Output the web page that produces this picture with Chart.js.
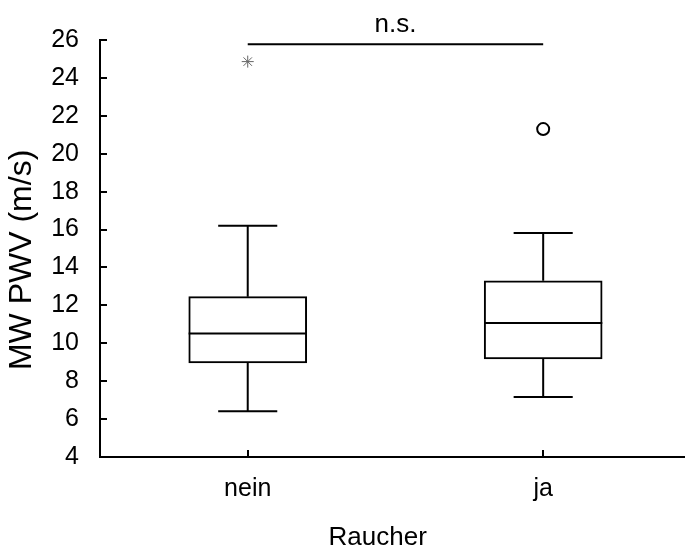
<!DOCTYPE html>
<html>
<head>
<meta charset="utf-8">
<script src="https://cdn.jsdelivr.net/npm/chart.js@4.4.1/dist/chart.umd.min.js"></script>
<style>
  body { margin: 0; background: #fff; }
  #wrap { width: 685px; height: 550px; }
</style>
</head>
<body>
<div id="wrap"><canvas id="boxChart" width="685" height="550"></canvas></div>
<script>
// Boxplot values (MW PWV in m/s)
var categories = ["nein", "ja"];
var whiskerLow = [6.42, 7.17];
var q1 = [8.97, 9.18];
var median = [10.52, 11.07];
var q3 = [12.46, 13.3];
var whiskerHigh = [16.2, 15.82];
// outliers: extreme (star) and mild (circle)
var extremeOutliers = [{ cat: 1, value: 24.86 }];
var mildOutliers = [{ cat: 2, value: 21.3 }];
var sigLevel = 25.78;
var sigText = "n.s.";
var yTitle = "MW PWV (m/s)";
var xTitle = "Raucher";
var yTicks = [4, 6, 8, 10, 12, 14, 16, 18, 20, 22, 24, 26];

var boxHalf = 0.2;
var capHalf = 0.1;

var medianPts = [];
var whiskerPts = [];
categories.forEach(function (c, i) {
  var x = i + 1;
  medianPts.push({ x: x - boxHalf, y: median[i] }, { x: x + boxHalf, y: median[i] }, { x: x + 0.5, y: null });
  whiskerPts.push({ x: x, y: q3[i] }, { x: x, y: whiskerHigh[i] }, { x: x + 0.5, y: null });
  whiskerPts.push({ x: x - capHalf, y: whiskerHigh[i] }, { x: x + capHalf, y: whiskerHigh[i] }, { x: x + 0.5, y: null });
  whiskerPts.push({ x: x, y: q1[i] }, { x: x, y: whiskerLow[i] }, { x: x + 0.5, y: null });
  whiskerPts.push({ x: x - capHalf, y: whiskerLow[i] }, { x: x + capHalf, y: whiskerLow[i] }, { x: x + 0.5, y: null });
});

// plot area runs right up to the canvas edge, like the original
var stretchRight = {
  id: "stretchRight",
  afterLayout: function (chart) {
    var xs = chart.scales.x;
    chart.chartArea.right = chart.width;
    chart.chartArea.width = chart.chartArea.right - chart.chartArea.left;
    xs.right = chart.width;
    xs.width = xs.right - xs.left;
    xs.configure();
  }
};

// inward tick marks, n.s. label and the axis titles
var extras = {
  id: "extras",
  afterDraw: function (chart) {
    var ctx = chart.ctx;
    var xs = chart.scales.x, ys = chart.scales.y;
    ctx.save();
    ctx.strokeStyle = "#000";
    ctx.lineWidth = 2;
    ctx.beginPath();
    yTicks.forEach(function (v) {
      var py = Math.round(ys.getPixelForValue(v));
      ctx.moveTo(xs.left, py);
      ctx.lineTo(xs.left + 7, py);
    });
    categories.forEach(function (c, i) {
      var px = Math.round(xs.getPixelForValue(i + 1));
      ctx.moveTo(px, ys.bottom);
      ctx.lineTo(px, ys.bottom - 7);
    });
    ctx.stroke();
    ctx.fillStyle = "#000";
    ctx.font = "26px 'Liberation Sans', Arial, sans-serif";
    ctx.textAlign = "center";
    ctx.textBaseline = "alphabetic";
    var mid = (xs.getPixelForValue(1) + xs.getPixelForValue(2)) / 2;
    ctx.fillText(sigText, mid, ys.getPixelForValue(sigLevel) - 12);

    // x title sits a bit left of the plot centre in the original
    ctx.fillText(xTitle, xs.getPixelForValue(1.44), 545);

    ctx.translate(22, ys.getPixelForValue(14.4));
    ctx.rotate(-Math.PI / 2);
    ctx.font = "32px 'Liberation Sans', Arial, sans-serif";
    ctx.textBaseline = "middle";
    ctx.fillText(yTitle, 0, 0);
    ctx.restore();
  }
};

var tickFont = { family: "'Liberation Sans', Arial, sans-serif", size: 25 };

new Chart(document.getElementById("boxChart"), {
  data: {
    datasets: [
      {
        type: "bar",
        order: 10,
        data: categories.map(function (c, i) { return { x: i + 1, y: [q1[i], q3[i]] }; }),
        backgroundColor: "#fff",
        borderColor: "#000",
        borderWidth: 2,
        borderSkipped: false,
        barThickness: 118
      },
      {
        type: "line",
        order: 1,
        data: medianPts,
        borderColor: "#000",
        borderWidth: 2,
        pointRadius: 0,
        spanGaps: false
      },
      {
        type: "line",
        order: 1,
        data: whiskerPts,
        borderColor: "#000",
        borderWidth: 2,
        pointRadius: 0,
        spanGaps: false
      },
      {
        type: "line",
        order: 1,
        data: [{ x: 1, y: sigLevel }, { x: 2, y: sigLevel }],
        borderColor: "#000",
        borderWidth: 2,
        pointRadius: 0
      },
      {
        type: "scatter",
        order: 0,
        data: mildOutliers.map(function (o) { return { x: o.cat, y: o.value }; }),
        pointStyle: "circle",
        pointRadius: 6,
        borderColor: "#000",
        backgroundColor: "#fff",
        borderWidth: 2
      },
      {
        type: "scatter",
        order: 0,
        data: extremeOutliers.map(function (o) { return { x: o.cat, y: o.value }; }),
        pointStyle: "star",
        pointRadius: 6,
        borderColor: "#666",
        borderWidth: 1
      }
    ]
  },
  options: {
    responsive: false,
    animation: false,
    layout: { padding: { top: 40, right: 0, left: 0, bottom: 0 } },
    plugins: { legend: { display: false }, tooltip: { enabled: false } },
    scales: {
      x: {
        type: "linear",
        offset: false,
        min: 0.5,
        max: 2.48,
        afterBuildTicks: function (scale) {
          scale.ticks = categories.map(function (c, i) { return { value: i + 1 }; });
        },
        afterFit: function (scale) {
          scale.height = 93;
          scale.paddingLeft = 0;
          scale.paddingRight = 0;
        },
        ticks: {
          color: "#000",
          font: tickFont,
          padding: 17,
          maxRotation: 0,
          callback: function (v) { return categories[v - 1]; }
        },
        grid: { display: false, drawTicks: false },
        border: { display: true, color: "#000", width: 2 },
        title: { display: false }
      },
      y: {
        min: 4,
        max: 26,
        afterBuildTicks: function (scale) {
          scale.ticks = yTicks.map(function (v) { return { value: v }; });
        },
        afterFit: function (scale) { scale.width = 100; },
        ticks: { color: "#000", font: tickFont, padding: 21 },
        grid: { display: false, drawTicks: false },
        border: { display: true, color: "#000", width: 2 },
        title: { display: false }
      }
    }
  },
  plugins: [stretchRight, extras]
});
</script>
</body>
</html>
